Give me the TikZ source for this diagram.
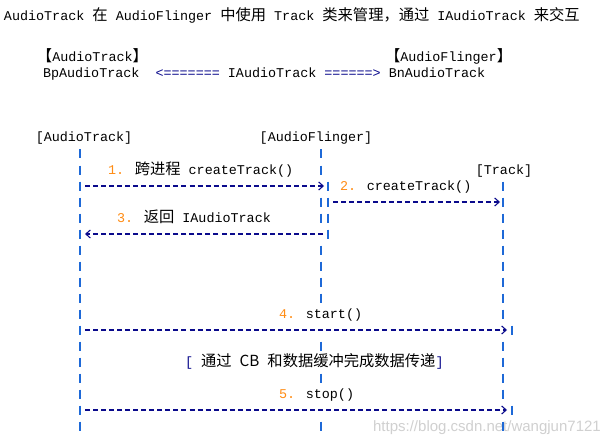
\documentclass[tikz,border=0pt]{standalone}
\usepackage{fontspec}
\usetikzlibrary{arrows.meta}
\setmainfont{Liberation Mono}
\newfontfamily\cjk[Scale=1.14]{Noto Sans CJK SC}
\newfontfamily\wmfont{Liberation Sans}
\definecolor{lifeblue}{RGB}{30,105,215}
\definecolor{arrnavy}{RGB}{10,10,140}
\definecolor{numorange}{RGB}{255,140,20}
\definecolor{wmgray}{RGB}{208,208,208}
\newcommand\lbar[2]{%
  \draw[lifeblue, line width=1.9pt] (#1,#2-4.5) -- (#1,#2+4.5);}
\begin{document}
\begin{tikzpicture}[x=1pt,y=-1pt,
  txt/.style={anchor=base west, inner sep=0pt, outer sep=0pt, font=\fontsize{13.4}{16}\selectfont},
  ctxt/.style={txt, anchor=base},
  msg/.style={draw=arrnavy, line width=1.1pt, dash pattern=on 5pt off 3.04pt},
  tipr/.style={-{Straight Barb[length=4.5pt,width=8pt,line width=1.1pt]}},
  num/.style={text=numorange}]
\fill[white] (0,0) rectangle (606,444);
\useasboundingbox (0,0) rectangle (606,444);

% watermark
\node[anchor=base east, inner sep=0pt, font=\wmfont\fontsize{15}{18}\selectfont, text=wmgray] (wm) at (601,431) {https://blog.csdn.net/wangjun7121};

% title
\node[txt] (title) at (4,21) {AudioTrack {\cjk 在} AudioFlinger {\cjk 中使用} Track {\cjk 类来管理，通过} IAudioTrack {\cjk 来交互}};

% header
\node[txt] (hat) at (37,62) {{\cjk 【}AudioTrack{\cjk 】}};
\node[txt] (haf) at (385,62) {{\cjk 【}AudioFlinger{\cjk 】}};
\node[txt] (hbp) at (43,78) {BpAudioTrack~ \textcolor{arrnavy}{<=======} IAudioTrack \textcolor{arrnavy}{======>} BnAudioTrack};

% lifeline labels
\node[ctxt] (lat) at (84,142) {[AudioTrack]};
\node[ctxt] (laf) at (316,142) {[AudioFlinger]};
\node[ctxt] (ltr) at (504,174.5) {[Track]};

% lifelines
\foreach \r in {154,170,...,426} {\lbar{80}{\r}}
\foreach \r in {154,170,202,218,250,266,282,298,346,378,426} {\lbar{321}{\r}}
\foreach \r in {186,202,218,234} {\lbar{328}{\r}}
\foreach \r in {186,202,218,234,250,266,282,298,314,346,362,378,394,426} {\lbar{503}{\r}}
\foreach \r in {330,410} {\lbar{512}{\r}}

% message labels
\node[txt] (t1) at (108,174.5) {\textcolor{numorange}{1.} {\cjk 跨进程} createTrack()};
\node[txt] (t2) at (340,190.5) {\textcolor{numorange}{2.} createTrack()};
\node[txt] (t3) at (117,222.5) {\textcolor{numorange}{3.} {\cjk 返回} IAudioTrack};
\node[txt] (t4) at (279,318.5) {\textcolor{numorange}{4.} start()};
\node[txt] (t6) at (185,366.5) {\textcolor{arrnavy}{[} {\cjk 通过} {\cjk CB} {\cjk 和数据缓冲完成数据传递}\textcolor{arrnavy}{]}};
\node[txt] (t5) at (279,398.5) {\textcolor{numorange}{5.} stop()};

% message endpoints
\coordinate (m1s) at (85,186);  \coordinate (m1e) at (324,186);
\coordinate (m2s) at (333,202); \coordinate (m2e) at (500,202);
\coordinate (m3s) at (323,234); \coordinate (m3e) at (85,234);
\coordinate (m4s) at (85,330);  \coordinate (m4e) at (507,330);
\coordinate (m5s) at (85,410);  \coordinate (m5e) at (507,410);

\draw[msg, tipr] (m1s) -- (m1e);
\draw[msg, tipr] (m2s) -- (m2e);
\draw[msg, tipr] (m3s) -- (m3e);
\draw[msg, tipr] (m4s) -- (m4e);
\draw[msg, tipr] (m5s) -- (m5e);
\end{tikzpicture}
\end{document}
